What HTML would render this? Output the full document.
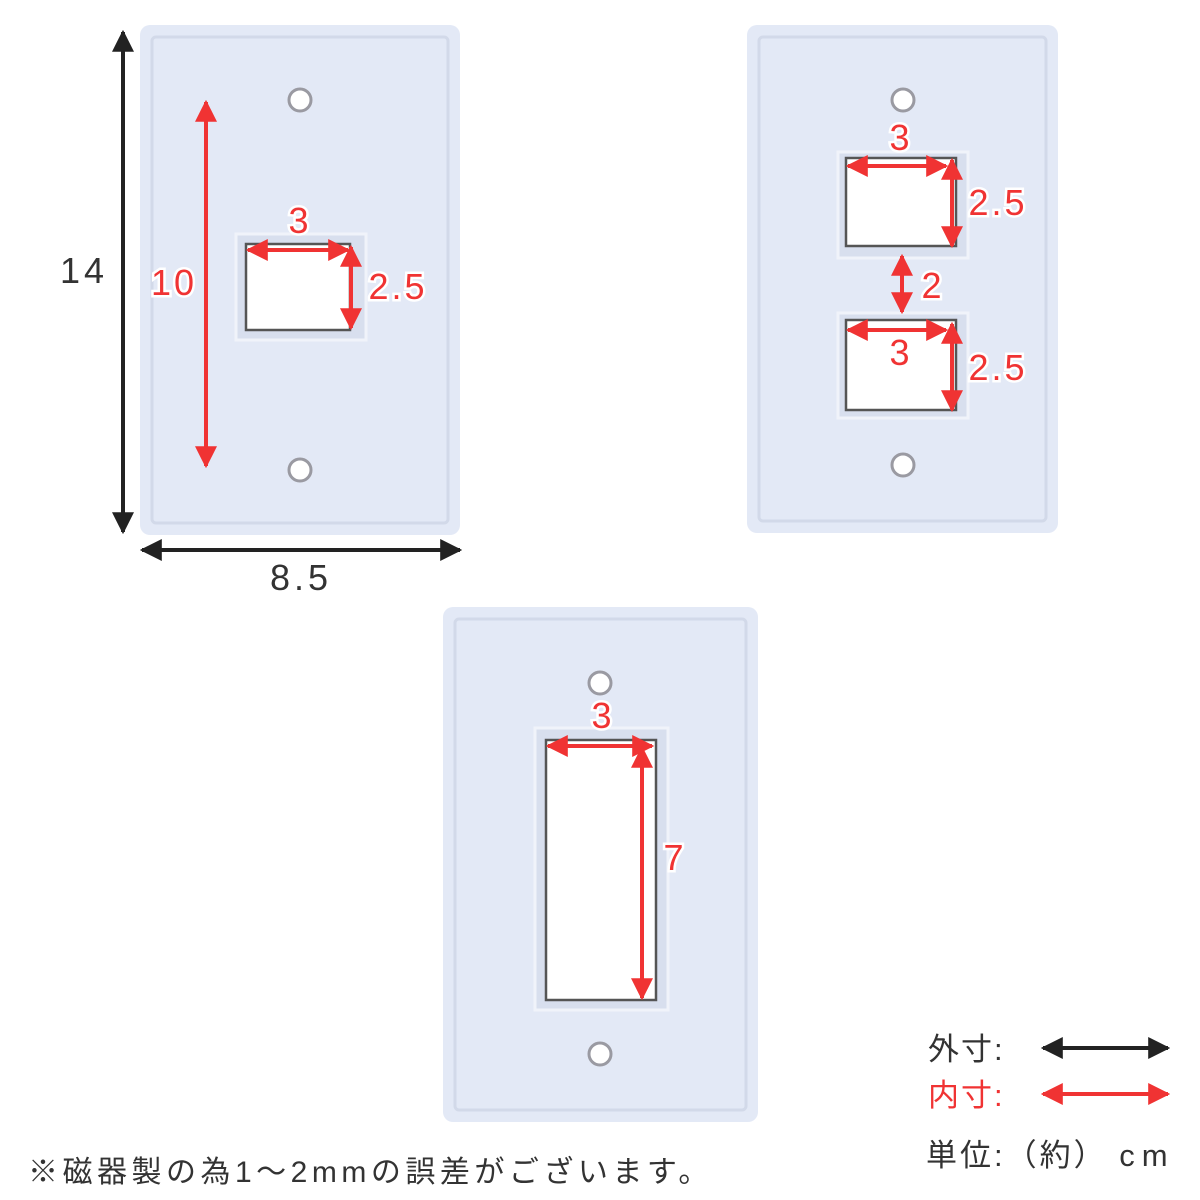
<!DOCTYPE html>
<html><head><meta charset="utf-8"><style>
html,body{margin:0;padding:0;background:#fff;width:1200px;height:1200px;overflow:hidden}
svg text{font-family:"Liberation Sans","Noto Sans CJK JP",sans-serif}
.r{fill:#f03333;stroke:#fff;stroke-width:5;paint-order:stroke;font-size:36px;letter-spacing:3px}
</style></head><body>
<svg width="1200" height="1200" viewBox="0 0 1200 1200" xmlns="http://www.w3.org/2000/svg">
<defs>
<marker id="ar" viewBox="0 0 10 10" refX="9" refY="5" markerWidth="5.5" markerHeight="5.5" orient="auto-start-reverse"><path d="M0,0L10,5L0,10z" fill="#f03333"/></marker>
<marker id="ab" viewBox="0 0 10 10" refX="9" refY="5" markerWidth="5.5" markerHeight="5.5" orient="auto-start-reverse"><path d="M0,0L10,5L0,10z" fill="#222"/></marker>
</defs>
<g fill="#e3e9f6">
<rect x="140" y="25" width="320" height="510" rx="10"/>
<rect x="747" y="25" width="311" height="508" rx="10"/>
<rect x="443" y="607" width="315" height="515" rx="10"/>
</g>
<g fill="none" stroke="#d2d9e9" stroke-width="3">
<rect x="152" y="37" width="296" height="486" rx="4"/>
<rect x="759" y="37" width="287" height="484" rx="4"/>
<rect x="455" y="619" width="291" height="491" rx="4"/>
</g>
<g fill="#d8dfee" stroke="#f0f3fa" stroke-width="3">
<rect x="236" y="234" width="130" height="106"/>
<rect x="838" y="152" width="130" height="106"/>
<rect x="838" y="313" width="130" height="105"/>
<rect x="535" y="728" width="133" height="282"/>
</g>
<g fill="#fff" stroke="#555" stroke-width="2.5">
<rect x="246" y="244" width="104" height="86"/>
<rect x="846" y="158" width="110" height="88"/>
<rect x="846" y="320" width="110" height="90"/>
<rect x="546" y="740" width="110" height="260"/>
</g>
<g fill="#fff" stroke="#9a9aa2" stroke-width="3">
<circle cx="300" cy="100" r="11"/><circle cx="300" cy="470" r="11"/>
<circle cx="903" cy="100" r="11"/><circle cx="903" cy="465" r="11"/>
<circle cx="600" cy="683" r="11"/><circle cx="600" cy="1054" r="11"/>
</g>
<g stroke="#222" stroke-width="4" marker-start="url(#ab)" marker-end="url(#ab)">
<line x1="123" y1="32" x2="123" y2="532"/>
<line x1="142" y1="550" x2="460" y2="550"/>
<line x1="1043" y1="1048" x2="1168" y2="1048"/>
</g>
<g stroke="#f03333" stroke-width="4" marker-start="url(#ar)" marker-end="url(#ar)">
<line x1="206" y1="102" x2="206" y2="466"/>
<line x1="248" y1="250" x2="348" y2="250"/>
<line x1="351" y1="247" x2="351" y2="328"/>
<line x1="848" y1="166" x2="946" y2="166"/>
<line x1="952" y1="160" x2="952" y2="246"/>
<line x1="902" y1="256" x2="902" y2="312"/>
<line x1="848" y1="330" x2="946" y2="330"/>
<line x1="952" y1="324" x2="952" y2="410"/>
<line x1="548" y1="746" x2="652" y2="746"/>
<line x1="642" y1="748" x2="642" y2="998"/>
<line x1="1043" y1="1094" x2="1168" y2="1094"/>
</g>
<g class="r" text-anchor="middle">
<text x="174" y="295">10</text>
<text x="300" y="233">3</text>
<text x="398" y="299">2.5</text>
<text x="901" y="150">3</text>
<text x="998" y="215">2.5</text>
<text x="933" y="298">2</text>
<text x="901" y="365">3</text>
<text x="998" y="380">2.5</text>
<text x="603" y="728">3</text>
<text x="675" y="870">7</text>
</g>
<g fill="#333" font-size="36px" letter-spacing="4px">
<text x="60" y="283">14</text>
<text x="270" y="590">8.5</text>
</g>
<g font-size="31px" fill="#333">
<text x="928" y="1060" letter-spacing="2px">外寸:</text>
<text x="928" y="1106" fill="#f03333" letter-spacing="2px">内寸:</text>
<text x="926" y="1166" letter-spacing="3px">単位:（約） <tspan letter-spacing="7px">cm</tspan></text>
<text x="28" y="1182" font-size="30px" letter-spacing="4.5px">※磁器製の為1～2mmの誤差がございます。</text>
</g>
</svg>
</body></html>
